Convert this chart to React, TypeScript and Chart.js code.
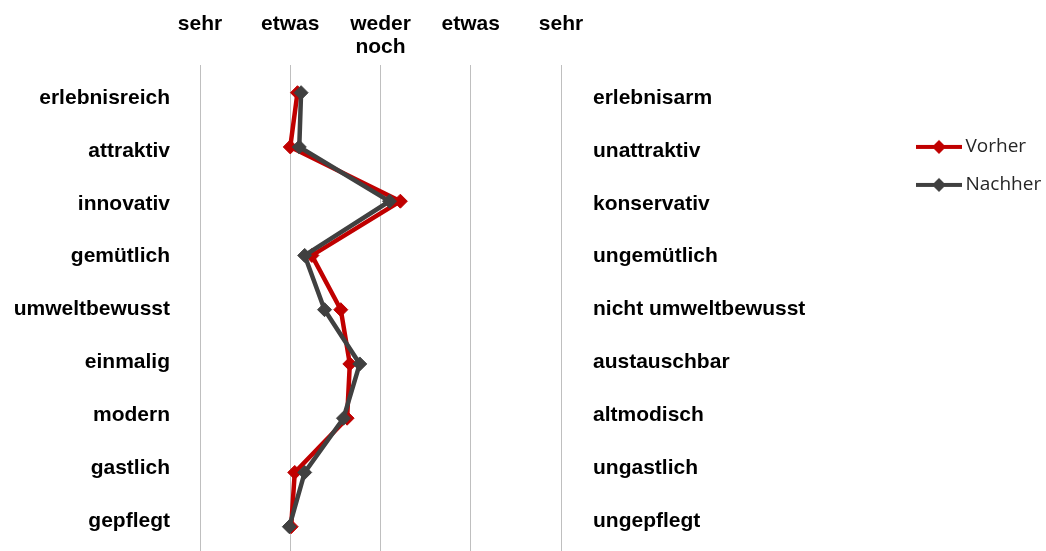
import React, { useEffect, useRef } from "react";
import { Chart, registerables } from "chart.js";

Chart.register(...registerables);

const leftLabels = ["erlebnisreich", "attraktiv", "innovativ", "gemütlich", "umweltbewusst", "einmalig", "modern", "gastlich", "gepflegt"];
const rightLabels = ["erlebnisarm", "unattraktiv", "konservativ", "ungemütlich", "nicht umweltbewusst", "austauschbar", "altmodisch", "ungastlich", "ungepflegt"];
const scaleLabels = [["sehr"], ["etwas"], ["weder", "noch"], ["etwas"], ["sehr"]];
const vorher = [2.08, 2.0, 3.22, 2.24, 2.56, 2.66, 2.63, 2.05, 2.01];
const nachher = [2.12, 2.1, 3.1, 2.16, 2.38, 2.77, 2.59, 2.16, 1.99];

const RED = "#C00000";
const GREY = "#404040";

function legendImage(color: string) {
  const c = document.createElement("canvas");
  c.width = 46;
  c.height = 16;
  const ctx = c.getContext("2d")!;
  ctx.strokeStyle = color;
  ctx.lineWidth = 4;
  ctx.beginPath();
  ctx.moveTo(0, 8);
  ctx.lineTo(46, 8);
  ctx.stroke();
  ctx.fillStyle = color;
  ctx.beginPath();
  ctx.moveTo(23, 1);
  ctx.lineTo(30, 8);
  ctx.lineTo(23, 15);
  ctx.lineTo(16, 8);
  ctx.closePath();
  ctx.fill();
  return c;
}

const zeroPad = (axis: any) => {
  axis.paddingTop = 0;
  axis.paddingBottom = 0;
  axis.paddingLeft = 0;
  axis.paddingRight = 0;
};

export default function App() {
  const ref = useRef<HTMLCanvasElement>(null);
  useEffect(() => {
    document.body.style.margin = "0";
    const images = [legendImage(RED), legendImage(GREY)];
    const boldFont = { family: "'Liberation Sans', Arial, sans-serif", size: 21, weight: "bold" as const, lineHeight: 1.1 };
    const chart = new Chart(ref.current!, {
      type: "line",
      data: {
        datasets: [
          {
            label: "Vorher",
            data: vorher.map((v, i) => ({ x: v, y: i + 1 })),
            borderColor: RED,
            backgroundColor: RED,
            borderWidth: 4.5,
            pointStyle: "rectRot",
            pointRadius: 7,
            pointBorderWidth: 1,
            tension: 0,
            order: 2,
            xAxisID: "x",
            yAxisID: "y",
          },
          {
            label: "Nachher",
            data: nachher.map((v, i) => ({ x: v, y: i + 1 })),
            borderColor: GREY,
            backgroundColor: GREY,
            borderWidth: 4.5,
            pointStyle: "rectRot",
            pointRadius: 7,
            pointBorderWidth: 1,
            tension: 0,
            order: 1,
            xAxisID: "x",
            yAxisID: "y",
          },
        ],
      },
      options: {
        animation: false,
        responsive: true,
        maintainAspectRatio: false,
        devicePixelRatio: 1,
        layout: { padding: 0, autoPadding: false },
        scales: {
          x: {
            type: "linear",
            position: "top",
            min: 1,
            max: 5,
            afterFit: (axis: any) => {
              axis.height = 65;
              zeroPad(axis);
            },
            afterBuildTicks: (axis: any) => {
              axis.ticks = scaleLabels.map((_, i) => ({ value: i + 1 }));
            },
            ticks: {
              autoSkip: false,
              maxRotation: 0,
              padding: 6.5,
              crossAlign: "far",
              color: "#000",
              font: boldFont,
              callback: (v: any) => scaleLabels[Math.round(Number(v)) - 1] ?? "",
            },
            grid: { color: "#BFBFBF", lineWidth: 1, drawTicks: false },
            border: { display: false },
          },
          y: {
            type: "linear",
            display: false,
            reverse: true,
            min: 0.4894,
            max: 9.448,
            ticks: { display: false },
            afterFit: (axis: any) => {
              axis.width = 0;
              zeroPad(axis);
            },
          },
          yl: {
            type: "linear",
            position: "left",
            reverse: true,
            min: 0.376,
            max: 9.5675,
            afterFit: (axis: any) => {
              axis.width = 200;
              zeroPad(axis);
            },
            afterBuildTicks: (axis: any) => {
              axis.ticks = leftLabels.map((_, i) => ({ value: i + 1 }));
            },
            ticks: {
              autoSkip: false,
              padding: 30,
              color: "#000",
              font: boldFont,
              callback: (v: any) => leftLabels[Math.round(Number(v)) - 1] ?? "",
            },
            grid: { display: false, drawTicks: false },
            border: { display: false },
          },
          yr: {
            type: "linear",
            position: "right",
            reverse: true,
            min: 0.376,
            max: 9.5675,
            afterFit: (axis: any) => {
              axis.width = 342;
              zeroPad(axis);
            },
            afterBuildTicks: (axis: any) => {
              axis.ticks = rightLabels.map((_, i) => ({ value: i + 1 }));
            },
            ticks: {
              autoSkip: false,
              padding: 32,
              color: "#000",
              font: boldFont,
              callback: (v: any) => rightLabels[Math.round(Number(v)) - 1] ?? "",
            },
            grid: { display: false, drawTicks: false },
            border: { display: false },
          },
        },
        plugins: {
          tooltip: { enabled: false },
          legend: {
            position: "right",
            align: "start",
            maxWidth: 143,
            title: { display: true, text: "", padding: { top: 104, bottom: 0 } },
            labels: {
              usePointStyle: true,
              pointStyleWidth: 34,
              padding: 19,
              color: "#262626",
              font: { family: "'Open Sans', sans-serif", size: 19 },
              sort: (a: any, b: any) => a.datasetIndex - b.datasetIndex,
              generateLabels: (ch: any) => {
                const items = (Chart.defaults.plugins.legend.labels as any).generateLabels(ch);
                return items.map((it: any) => ({ ...it, pointStyle: images[it.datasetIndex] }));
              },
            },
          },
        },
      },
    });
    return () => chart.destroy();
  }, []);
  return (
    <div style={{ position: "absolute", left: 0, top: 0, width: 1046, height: 551, overflow: "hidden" }}>
      <canvas ref={ref} />
    </div>
  );
}
